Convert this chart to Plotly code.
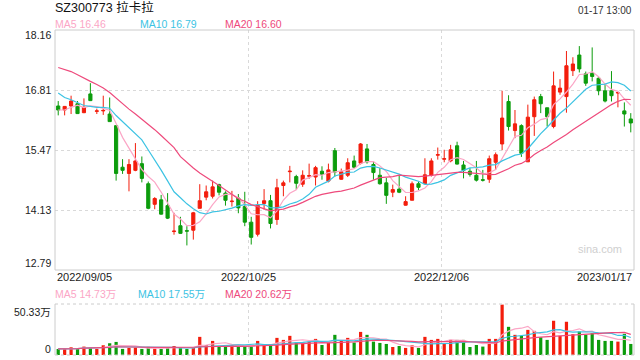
import plotly.graph_objects as go
import pandas as pd

title = "SZ300773 拉卡拉"
stamp = "01-17 13:00"
tick_labels = ["2022/09/05", "2022/10/25", "2022/12/06", "2023/01/17"]
grid_pos = [29.6, 59.6]
price_ticks = [18.16, 16.81, 15.47, 14.13, 12.79]
vol_ticks = ["50.33万", "0"]
price_legend = ["MA5 16.46", "MA10 16.79", "MA20 16.60"]
vol_legend = ["MA5 14.73万", "MA10 17.55万", "MA20 20.62万"]

opens = [16.46, 16.37, 16.46, 16.51, 16.31, 16.73, 16.34, 16.35, 16.28, 16.02,
         15.09, 14.95, 15.02, 15.17, 14.72, 14.26, 14.36, 14.23, 13.65, 13.78,
         13.67, 13.68, 14.17, 14.42, 14.44, 14.70, 14.51, 14.32, 14.40, 14.21,
         13.86, 13.59, 14.28, 14.34, 13.92, 14.68, 14.99, 14.88, 14.71, 14.89,
         14.87, 15.00, 14.78, 15.46, 14.82, 14.91, 15.23, 15.18, 15.50, 15.15,
         14.91, 14.74, 14.53, 14.60, 14.24, 14.35, 14.72, 14.72, 14.91, 15.36,
         15.27, 15.23, 15.57, 15.14, 15.00, 14.91, 14.81, 14.82, 15.20, 15.61,
         16.56, 15.91, 16.02, 15.21, 16.22, 16.67, 16.42, 16.00, 16.77, 16.67,
         17.25, 17.60, 17.18, 17.19, 17.08, 16.80, 16.80, 16.75, 16.35, 16.17]
highs = [16.57, 16.46, 16.69, 16.57, 16.63, 16.97, 16.40, 16.69, 16.65, 16.02,
         15.27, 15.27, 15.63, 15.33, 14.77, 14.42, 14.47, 14.51, 14.07, 13.98,
         13.77, 14.09, 14.71, 14.68, 14.79, 14.72, 14.55, 14.56, 14.49, 14.54,
         13.98, 14.33, 14.60, 14.47, 14.83, 14.79, 15.12, 14.92, 15.02, 15.17,
         15.12, 15.11, 15.17, 15.52, 15.06, 15.29, 15.35, 15.63, 15.61, 15.22,
         15.07, 14.85, 14.70, 14.90, 14.44, 14.77, 14.77, 15.29, 15.29, 15.53,
         15.48, 15.59, 15.66, 15.23, 15.07, 15.23, 15.03, 15.35, 15.42, 16.80,
         16.70, 16.37, 16.05, 16.49, 16.67, 16.73, 16.42, 17.23, 17.06, 17.69,
         17.55, 17.80, 17.23, 17.77, 17.10, 16.95, 17.24, 16.77, 16.54, 16.30]
lows = [16.25, 16.25, 16.28, 16.28, 16.30, 16.57, 16.28, 16.26, 16.11, 14.79,
        14.94, 14.55, 15.00, 14.75, 14.15, 14.15, 14.03, 13.93, 13.58, 13.60,
        13.34, 13.47, 14.17, 14.35, 14.39, 14.46, 14.23, 14.21, 14.06, 13.77,
        13.36, 13.54, 14.14, 13.72, 13.80, 14.44, 14.75, 14.59, 14.65, 14.83,
        14.68, 14.81, 14.75, 14.88, 14.81, 14.87, 15.06, 15.15, 15.17, 14.81,
        14.70, 14.27, 14.42, 14.51, 14.23, 14.35, 14.58, 14.72, 14.88, 15.26,
        15.20, 15.20, 15.15, 14.84, 14.88, 14.77, 14.77, 14.74, 15.03, 15.47,
        15.91, 15.74, 15.32, 15.21, 15.79, 16.30, 16.00, 15.96, 16.71, 16.31,
        17.13, 17.21, 16.91, 17.01, 16.70, 16.54, 16.56, 16.43, 16.00, 15.87]
closes = [16.37, 16.45, 16.57, 16.29, 16.43, 16.58, 16.35, 16.36, 16.11, 14.95,
          15.02, 15.15, 15.23, 14.84, 14.17, 14.39, 14.04, 13.95, 13.66, 13.61,
          13.66, 14.07, 14.34, 14.54, 14.65, 14.53, 14.35, 14.33, 14.18, 13.86,
          13.52, 14.24, 14.34, 13.83, 14.63, 14.74, 15.00, 14.73, 14.91, 14.90,
          15.08, 14.93, 15.03, 14.98, 14.99, 15.19, 15.09, 15.61, 15.21, 14.97,
          14.72, 14.46, 14.59, 14.53, 14.32, 14.72, 14.64, 14.92, 15.23, 15.37,
          15.28, 15.48, 15.16, 15.02, 14.93, 14.80, 14.80, 15.28, 15.37, 16.19,
          16.00, 16.06, 15.40, 16.21, 16.60, 16.51, 16.22, 16.91, 16.86, 17.36,
          17.40, 17.29, 16.97, 17.12, 16.80, 16.57, 16.69, 16.76, 16.28, 16.08]
volume = [5.96, 5.96, 7.6, 6.0, 8.3, 7.3, 6.0, 9.6, 11.6, 12.9,
          6.0, 7.0, 7.3, 6.0, 8.0, 6.3, 6.0, 7.0, 8.9, 7.3,
          6.0, 7.6, 17.9, 9.9, 13.9, 8.9, 9.9, 9.6, 8.9, 8.3,
          8.3, 13.9, 9.9, 9.3, 16.9, 14.9, 18.9, 12.3, 12.3, 13.2,
          15.9, 9.9, 12.3, 19.9, 14.2, 16.9, 12.3, 22.8, 19.9, 13.2,
          11.9, 10.9, 7.9, 8.9, 7.0, 9.6, 7.0, 17.9, 14.9, 15.9,
          11.6, 14.9, 14.9, 14.9, 7.9, 9.9, 8.3, 15.9, 15.9, 49.7,
          27.8, 19.9, 18.9, 24.8, 23.8, 17.5, 14.9, 33.8, 18.9, 32.8,
          20.5, 23.2, 19.9, 21.5, 14.9, 13.9, 13.9, 13.2, 20.9, 10.9]

# MA values at the start of the window (earlier history not shown)
ma5_head = [16.37, 16.37, 16.43, 16.48]
ma10_head = [16.75, 16.65, 16.60, 16.53, 16.47, 16.45, 16.43, 16.43, 16.41]
ma20_head = [17.32, 17.27, 17.23, 17.16, 17.08, 17.01, 16.94, 16.86, 16.76, 16.63,
             16.50, 16.39, 16.28, 16.17, 16.05, 15.93, 15.80, 15.67, 15.53]

RED = "#f31d0c"
GREEN = "#0c9c0c"
C5 = "#fba6c6"
C10 = "#3cc3e3"
C20 = "#ee4a7c"
FONT = "Liberation Sans, Arial, Noto Sans CJK SC, sans-serif"

n = len(closes)
idx = list(range(n))
cs = pd.Series(closes)


def ma(w, head):
    m = cs.rolling(w).mean().tolist()
    m[:len(head)] = head
    return m


vs = pd.Series(volume)
vma = {w: vs.rolling(w, min_periods=1).mean().tolist() for w in (5, 10, 20)}
vol_colors = [RED if c >= o else GREEN for o, c in zip(opens, closes)]

fig = go.Figure()
fig.add_trace(go.Candlestick(
    x=idx, open=opens, high=highs, low=lows, close=closes,
    increasing=dict(line=dict(color=RED, width=1), fillcolor=RED),
    decreasing=dict(line=dict(color=GREEN, width=1), fillcolor=GREEN),
    whiskerwidth=0, xaxis="x", yaxis="y", hoverinfo="skip"))
for w, head, col in ((5, ma5_head, C5), (10, ma10_head, C10), (20, ma20_head, C20)):
    fig.add_trace(go.Scatter(x=idx, y=ma(w, head), mode="lines",
                             line=dict(color=col, width=1.2), xaxis="x", yaxis="y",
                             hoverinfo="skip"))
fig.add_trace(go.Bar(x=idx, y=volume, marker=dict(color=vol_colors, line=dict(width=0)),
                     width=0.5, xaxis="x2", yaxis="y2", hoverinfo="skip"))
for w, col in ((5, C5), (10, C10), (20, C20)):
    fig.add_trace(go.Scatter(x=idx, y=vma[w], mode="lines", line=dict(color=col, width=1.2),
                             xaxis="x2", yaxis="y2", hoverinfo="skip"))

PTOP, PBOT, VTOP, VBOT = 30, 270, 304, 355
H_AREA = 355 - 30


def py(pix):
    return (355 - pix) / H_AREA


def px(pix):
    return (pix - 55) / 579


GRID = "#d9d9d9"
axis_x = dict(range=[-0.5, n - 0.5], tickvals=grid_pos, showticklabels=False, showgrid=True,
              gridcolor=GRID, griddash="dot", gridwidth=1, zeroline=False, showline=False,
              ticks="", fixedrange=True)
fig.update_layout(
    width=640, height=360, margin=dict(l=55, r=6, t=30, b=5),
    paper_bgcolor="white", plot_bgcolor="white", showlegend=False,
    font=dict(family=FONT, size=11, color="#333"),
    xaxis=dict(axis_x, domain=[0, 1], anchor="y", rangeslider=dict(visible=False)),
    xaxis2=dict(axis_x, domain=[0, 1], anchor="y2", matches="x"),
    yaxis=dict(domain=[py(PBOT), 1], range=[price_ticks[-1], price_ticks[0]],
               tickvals=price_ticks[1:-1], showticklabels=False, showgrid=True,
               gridcolor=GRID, griddash="dot", zeroline=False, showline=False, fixedrange=True),
    yaxis2=dict(domain=[0, py(VTOP)], range=[0, 50.33], showticklabels=False, showgrid=False,
                zeroline=False, showline=False, fixedrange=True),
)

BORDER = "#cccccc"
shapes = [
    dict(type="rect", xref="paper", yref="paper", x0=0, x1=1, y0=py(PBOT), y1=1,
         line=dict(color=BORDER, width=1)),
    dict(type="line", xref="paper", yref="paper", x0=0, x1=0, y0=0, y1=py(VTOP),
         line=dict(color=BORDER, width=1)),
    dict(type="line", xref="paper", yref="paper", x0=1, x1=1, y0=0, y1=py(VTOP),
         line=dict(color=BORDER, width=1)),
    dict(type="line", xref="paper", yref="paper", x0=0, x1=1, y0=py(VTOP), y1=py(VTOP),
         line=dict(color=BORDER, width=1, dash="dot")),
    dict(type="line", xref="paper", yref="paper", x0=0, x1=1, y0=0, y1=0,
         line=dict(color=BORDER, width=1, dash="dot")),
]
fig.update_layout(shapes=shapes)

ann = []
ann.append(dict(text=title, x=px(53), y=py(8), xref="paper", yref="paper", xanchor="left",
                yanchor="middle", showarrow=False, font=dict(size=12.5, color="#111")))
ann.append(dict(text=stamp, x=1, y=py(11), xref="paper", yref="paper", xanchor="right",
                yanchor="middle", showarrow=False, font=dict(size=10, color="#333")))
for txt, xp, col in zip(price_legend, (53, 138, 223), (C5, C10, C20)):
    ann.append(dict(text=txt, x=px(xp), y=py(24), xref="paper", yref="paper", xanchor="left",
                    yanchor="middle", showarrow=False, font=dict(size=10.5, color=col)))
for txt, xp, col in zip(vol_legend, (53, 136, 223), (C5, C10, C20)):
    ann.append(dict(text=txt, x=px(xp), y=py(294), xref="paper", yref="paper", xanchor="left",
                    yanchor="middle", showarrow=False, font=dict(size=10.5, color=col)))
ylab_pix = [35, 90, 150, 210, 263]
for v, yp in zip(price_ticks, ylab_pix):
    ann.append(dict(text=f"{v:.2f}", x=0, y=py(yp), xref="paper", yref="paper",
                    xanchor="right", yanchor="middle", xshift=-2, showarrow=False,
                    font=dict(size=10.5, color="#222")))
for txt, yp in zip(vol_ticks, (312, 349)):
    ann.append(dict(text=txt, x=0, y=py(yp), xref="paper", yref="paper",
                    xanchor="right", yanchor="middle", xshift=-2, showarrow=False,
                    font=dict(size=10.5, color="#222")))
xlab_pos = [-0.5, grid_pos[0], grid_pos[1], n - 0.5]
xlab_anchor = ["left", "center", "center", "right"]
for txt, xv, anc in zip(tick_labels, xlab_pos, xlab_anchor):
    ann.append(dict(text=txt, x=xv, y=py(277), xref="x", yref="paper", xanchor=anc,
                    yanchor="middle", showarrow=False, font=dict(size=11, color="#222")))
ann.append(dict(text="sina.com", x=px(624), y=py(249), xref="paper", yref="paper",
                xanchor="right", yanchor="middle", showarrow=False,
                font=dict(size=11, color="#cfcfcf")))
fig.update_layout(annotations=ann)

fig.write_html("out.html", config={"displayModeBar": False},
               post_script="document.body.style.margin='0px';"
                           "document.body.style.overflow='hidden';")
